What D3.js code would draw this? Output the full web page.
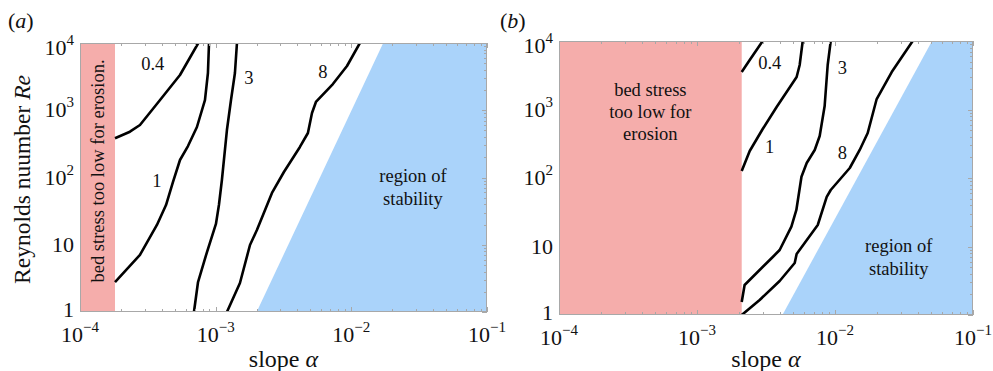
<!DOCTYPE html>
<html><head><meta charset="utf-8">
<script src="https://cdn.jsdelivr.net/npm/d3@7"></script>
<style>
body{margin:0;background:#fff;}
</style></head>
<body><svg id="c" width="993" height="371" font-family="'Liberation Serif','Times New Roman',Tinos,'Noto Serif','DejaVu Serif',FreeSerif,Times,serif"></svg>
<script>
// ---- data (log10 alpha, log10 Re) ----
const xTickValues = [1e-4, 1e-3, 1e-2, 1e-1];
const xTickExps = ["\u22124", "\u22123", "\u22122", "\u22121"];
const yTickValues = [1, 10, 100, 1000, 10000];
const yTickBases = ["1", "10", "10", "10", "10"];
const yTickExps = ["", "", "2", "3", "4"];

// panel (a)
const aPinkMaxLog = -3.742;
const aBlueEdge = [[-2.698, 0], [-1.765, 4]];
const aContour04 = [[-3.742,2.583],[-3.632,2.681],[-3.558,2.781],[-3.410,3.152],[-3.263,3.524],[-3.128,4.0]];
const aContour1 = [[-3.742,0.446],[-3.558,0.848],[-3.433,1.294],[-3.366,1.591],[-3.315,1.933],[-3.263,2.260],[-3.204,2.468],[-3.138,2.751],[-3.079,3.152],[-3.057,3.554],[-3.049,4.0]];
const aContour3 = [[-3.160,0],[-3.130,0.446],[-3.064,0.892],[-2.998,1.309],[-2.976,1.591],[-2.954,1.963],[-2.917,2.706],[-2.887,3.152],[-2.858,3.554],[-2.843,4.0]];
const aContour8 = [[-2.917,0],[-2.821,0.431],[-2.747,0.996],[-2.696,1.219],[-2.585,1.770],[-2.497,2.082],[-2.379,2.454],[-2.320,2.662],[-2.290,2.959],[-2.261,3.123],[-2.136,3.390],[-2.032,3.658],[-1.937,4.0]];
const aContourLabels = ["0.4", "1", "3", "8"];
const aContourLabelPos = [[-3.464,3.698],[-3.433,1.948],[-2.755,3.48],[-2.209,3.569]];
const aStabilityPos = [-1.546, 1.859];
const aPinkTextLogRe = 2.097;

// panel (b)
const bPinkMaxLog = -2.676;
const bBlueEdge = [[-2.381, 0], [-1.297, 4]];
const bContour04 = [[-2.676,3.547],[-2.618,3.723],[-2.524,4.0]];
const bContour1 = [[-2.676,2.102],[-2.618,2.394],[-2.524,2.715],[-2.423,3.036],[-2.278,3.474],[-2.256,3.650],[-2.234,4.0]];
const bContour3 = [[-2.676,0.19],[-2.655,0.438],[-2.451,0.847],[-2.401,0.949],[-2.316,1.289],[-2.280,1.533],[-2.243,2.019],[-2.205,2.219],[-2.147,2.409],[-2.111,2.613],[-2.075,3.051],[-2.053,3.650],[-2.031,4.0]];
const bContour8 = [[-2.676,0.0],[-2.546,0.219],[-2.401,0.496],[-2.292,0.759],[-2.278,0.891],[-2.125,1.314],[-2.060,1.723],[-2.031,1.825],[-1.893,2.146],[-1.821,2.409],[-1.763,2.657],[-1.698,3.153],[-1.589,3.547],[-1.437,4.0]];
const bContourLabels = ["0.4", "1", "3", "8"];
const bContourLabelPos = [[-2.473,3.679],[-2.473,2.453],[-1.946,3.606],[-1.946,2.365]];
const bStabilityPos = [-1.538, 0.847];
const bPinkTextLogRe = 2.964;

const PINK = "#f5adab", BLUE = "#aad3fa", FRAME = "#a8a8a8", INK = "#111";
const svg = d3.select("#c");

function drawPanel(cfg) {
  const x = d3.scaleLog().domain([1e-4, 1e-1]).range([cfg.x0, cfg.x1]);
  const y = d3.scaleLog().domain([1, 1e4]).range([cfg.y1, cfg.y0]);
  const P = v => Math.pow(10, v);
  const g = svg.append("g").attr("fill", INK);
  const cid = "clip" + cfg.id;
  svg.append("clipPath").attr("id", cid).append("rect")
    .attr("x", cfg.x0).attr("y", cfg.y0).attr("width", cfg.x1 - cfg.x0).attr("height", cfg.y1 - cfg.y0);
  const plot = g.append("g").attr("clip-path", `url(#${cid})`);

  plot.append("rect").attr("x", x(1e-4)).attr("y", y(1e4))
    .attr("width", x(P(cfg.pinkMax)) - x(1e-4)).attr("height", y(1) - y(1e4)).attr("fill", PINK);
  const be = cfg.blueEdge;
  const poly = [[P(be[0][0]), P(be[0][1])], [P(be[1][0]), P(be[1][1])], [1e-1, 1e4], [1e-1, 1]];
  plot.append("path").attr("d", "M" + poly.map(p => [x(p[0]), y(p[1])].join(",")).join("L") + "Z").attr("fill", BLUE);

  const fr = g.append("g").attr("stroke", FRAME).attr("stroke-width", 1).attr("fill", "none");
  fr.append("rect").attr("x", cfg.x0 + 0.5).attr("y", cfg.y0 + 0.5)
    .attr("width", cfg.x1 - cfg.x0 - 1).attr("height", cfg.y1 - cfg.y0 - 1);
  const xt = [];
  for (let e = -4; e < -1; e++) for (let m = 1; m < 10; m++) xt.push([m * Math.pow(10, e), m === 1]);
  xt.push([1e-1, true]);
  xt.forEach(([v, maj]) => {
    const L = maj ? 5 : 3, px = Math.round(x(v)) + 0.5;
    fr.append("line").attr("x1", px).attr("x2", px).attr("y1", cfg.y1).attr("y2", cfg.y1 - L);
    fr.append("line").attr("x1", px).attr("x2", px).attr("y1", cfg.y0).attr("y2", cfg.y0 + L);
  });
  const yt = [];
  for (let e = 0; e < 4; e++) for (let m = 1; m < 10; m++) yt.push([m * Math.pow(10, e), m === 1]);
  yt.push([1e4, true]);
  yt.forEach(([v, maj]) => {
    const L = maj ? 5 : 3, py = Math.round(y(v)) + 0.5;
    fr.append("line").attr("y1", py).attr("y2", py).attr("x1", cfg.x1).attr("x2", cfg.x1 - L);
  });

  const line = d3.line().x(d => x(P(d[0]))).y(d => y(P(d[1])));
  cfg.contours.forEach(c => {
    plot.append("path").attr("d", line(c)).attr("fill", "none")
      .attr("stroke", "#000").attr("stroke-width", 2.6).attr("stroke-linejoin", "round");
  });
  cfg.labels.forEach((t, i) => {
    const p = cfg.labelPos[i];
    g.append("text").attr("x", x(P(p[0]))).attr("y", y(P(p[1]))).attr("dy", "0.35em")
      .attr("text-anchor", "middle").attr("font-size", 18.5).text(t);
  });
  const st = g.append("text").attr("text-anchor", "middle").attr("font-size", 18.5)
    .attr("x", x(P(cfg.stab[0]))).attr("y", y(P(cfg.stab[1])));
  st.append("tspan").attr("x", x(P(cfg.stab[0]))).attr("dy", "-0.25em").text("region of");
  st.append("tspan").attr("x", x(P(cfg.stab[0]))).attr("dy", "1.2em").text("stability");

  const pcx = (x(1e-4) + x(P(cfg.pinkMax))) / 2, pcy = y(P(cfg.pinkTextLogRe));
  if (cfg.pinkVertical) {
    g.append("text").attr("transform", `translate(${pcx + 6},${pcy}) rotate(-90)`)
      .attr("text-anchor", "middle").attr("font-size", 18.5).text(cfg.pinkLines.join(" "));
  } else {
    const pt = g.append("text").attr("text-anchor", "middle").attr("font-size", 18.5).attr("x", pcx).attr("y", pcy);
    cfg.pinkLines.forEach((l, i) => pt.append("tspan").attr("x", pcx)
      .attr("dy", i === 0 ? "-0.85em" : "1.17em").text(l));
  }

  xTickValues.forEach((v, i) => {
    const t = g.append("text").attr("x", x(v)).attr("y", cfg.y1 + 30).attr("text-anchor", "middle").attr("font-size", 22);
    t.append("tspan").text("10");
    t.append("tspan").attr("dy", -10).attr("font-size", 15).text(xTickExps[i]);
  });
  yTickValues.forEach((v, i) => {
    let yy = y(v) + 7;
    if (i === 0) yy = y(v) + 5;
    if (i === yTickValues.length - 1) yy += 5;
    const t = g.append("text").attr("x", cfg.x0 - 6).attr("y", yy).attr("text-anchor", "end").attr("font-size", 22);
    t.append("tspan").text(yTickBases[i]);
    if (yTickExps[i]) t.append("tspan").attr("dy", -10).attr("font-size", 15).text(yTickExps[i]);
  });

  const xt2 = g.append("text").attr("x", (cfg.x0 + cfg.x1) / 2).attr("y", 367).attr("text-anchor", "middle").attr("font-size", 24);
  xt2.append("tspan").text("slope ");
  xt2.append("tspan").attr("font-style", "italic").text("\u03b1");

  const pl = g.append("text").attr("x", cfg.letterX).attr("y", 28).attr("font-size", 22);
  pl.append("tspan").text("(");
  pl.append("tspan").attr("font-style", "italic").text(cfg.letter);
  pl.append("tspan").text(")");

  if (cfg.yTitle) {
    const yt3 = g.append("text").attr("transform", `translate(30,${(cfg.y0 + cfg.y1) / 2 + 2}) rotate(-90)`)
      .attr("text-anchor", "middle").attr("font-size", 23.5);
    yt3.append("tspan").text("Reynolds nuumber ");
    yt3.append("tspan").attr("font-style", "italic").text("Re");
  }
}

drawPanel({id: "a", x0: 80, x1: 487, y0: 43, y1: 312, pinkMax: aPinkMaxLog, blueEdge: aBlueEdge,
  contours: [aContour04, aContour1, aContour3, aContour8], labels: aContourLabels, labelPos: aContourLabelPos,
  stab: aStabilityPos, pinkTextLogRe: aPinkTextLogRe, pinkVertical: true,
  pinkLines: ["bed stress too low for erosion."], letter: "a", letterX: 8, yTitle: true});
drawPanel({id: "b", x0: 559, x1: 973, y0: 41, y1: 315, pinkMax: bPinkMaxLog, blueEdge: bBlueEdge,
  contours: [bContour04, bContour1, bContour3, bContour8], labels: bContourLabels, labelPos: bContourLabelPos,
  stab: bStabilityPos, pinkTextLogRe: bPinkTextLogRe, pinkVertical: false,
  pinkLines: ["bed stress", "too low for", "erosion"], letter: "b", letterX: 500, yTitle: false});
</script></body></html>
